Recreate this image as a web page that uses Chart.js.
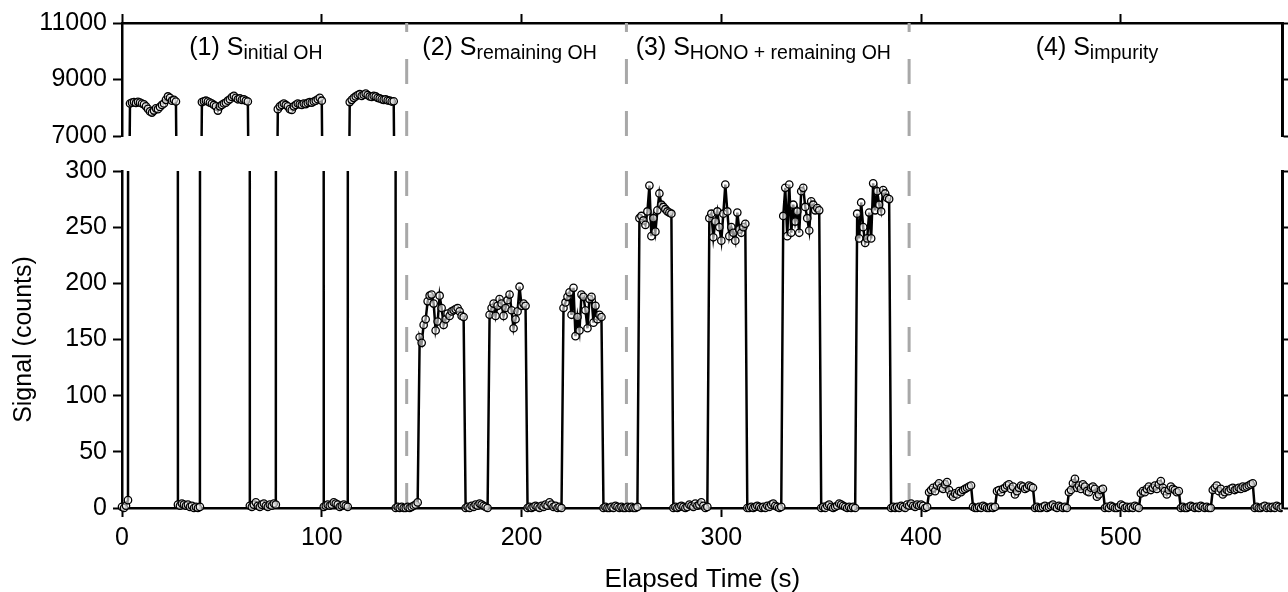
<!DOCTYPE html>
<html>
<head>
<meta charset="utf-8">
<script src="https://cdn.jsdelivr.net/npm/chart.js@4.4.1/dist/chart.umd.min.js"></script>
<style>
  html, body { margin: 0; padding: 0; background: #fff; }
  #wrap { position: relative; width: 1288px; height: 592px; overflow: hidden; }
  canvas { position: absolute; left: 0; }
  #topChart { top: 0; }
  #mainChart { top: 150px; }
</style>
</head>
<body>
<div id="wrap">
  <canvas id="topChart" width="1288" height="157"></canvas>
  <canvas id="mainChart" width="1288" height="442"></canvas>
</div>
<script>
// one sample per second, counts
var timeStep = 1;
var xMax = 581;

var phase1Counts = [
  1, 0, 2, 7,
  8150, 8180, 8200, 8170, 8210, 8180, 8150, 8120, 8050, 7960, 7870, 7830, 7900, 7980, 7950, 8030, 8100, 8150, 8280, 8400, 8350, 8250, 8280, 8220,
  3, 2, 4, 3, 2, 3, 1, 2, 0, 1, 0, 1,
  8200, 8230, 8250, 8220, 8180, 8150, 8100, 8050, 7900, 8050, 8100, 8150, 8180, 8250, 8300, 8380, 8420, 8350, 8300, 8330, 8280, 8300, 8250, 8220,
  2, 1, 3, 5, 2, 1, 3, 4, 2, 1, 3, 2, 4, 3,
  7950, 8050, 8100, 8150, 8100, 8050, 7950, 7920, 8050, 8100, 8150, 8120, 8100, 8150, 8130, 8170, 8200, 8180, 8220, 8250, 8300, 8350, 8250,
  1, 2, 3, 2, 3, 5, 4, 3, 1, 2, 3, 2, 1,
  8200, 8280, 8350, 8400, 8450, 8480, 8420, 8460, 8500, 8450, 8400, 8380, 8420, 8400, 8350, 8330, 8300, 8280, 8300, 8260, 8250, 8220, 8230,
  0, 1, 0, 1, 0, 0, 1, 0, 1, 2, 3, 5
];
var phase2Counts = [
  152, 147, 163, 168, 184, 189, 190, 182, 158, 166, 189, 178, 163, 168, 173, 171, 175, 176, 177, 178, 175, 171, 170,
  0, 1, 0, 2, 1, 3, 2, 4, 3, 2, 1, 0,
  172, 178, 182, 171, 180, 186, 182, 171, 178, 185, 190, 176, 160, 168, 175, 197, 180, 182, 180,
  0, 1, 0, 1, 2, 1, 0, 2, 1, 3, 2, 5, 3, 1, 2, 0, 1, 0,
  178, 183, 188, 192, 172, 196, 153, 170, 158, 190, 188, 176, 160, 186, 188, 165, 180, 168, 172, 170,
  0, 1, 0, 0, 1, 0, 2, 1, 0, 1, 0, 0, 1, 0, 1, 0, 0, 1
];
var phase3Counts = [
  258, 260, 256, 252, 264, 287, 242, 258, 246, 265, 280, 270, 268, 266, 264, 263, 262,
  0, 1, 0, 1, 2, 1, 0, 1, 3, 2, 1, 4, 2, 3, 5, 2, 0, 1,
  258, 262, 241, 255, 264, 250, 238, 262, 288, 264, 242, 250, 245, 238, 263, 248, 245, 250, 253,
  0, 0, 1, 0, 1, 2, 1, 0, 1, 0, 2, 1, 3, 4, 2, 1, 0, 1,
  260, 285, 242, 288, 245, 270, 255, 264, 245, 282, 285, 268, 258, 247, 273, 270, 265, 267, 265,
  0, 1, 0, 2, 3, 1, 0, 1, 2, 4, 3, 2, 1, 0, 1, 0, 1, 0,
  262, 240, 272, 250, 236, 240, 263, 240, 289, 265, 282, 270, 264, 283, 280, 276, 275,
  0, 1, 0, 1, 0, 2, 1, 0, 3, 2, 4, 2, 1, 3, 2, 3, 2, 0, 1
];
var phase4Counts = [
  14, 16, 18, 15, 20, 22, 18, 17, 21, 23, 16, 12, 10, 13, 12, 15, 14, 16, 17, 18, 19, 20,
  1, 0, 0, 1, 0, 2, 1, 0, 0, 1, 0, 1,
  15, 16, 14, 17, 18, 20, 21, 17, 19, 12, 15, 18, 20, 19, 17, 18, 20, 19, 18,
  0, 1, 0, 0, 1, 2, 0, 1, 2, 3, 1, 0, 2, 1, 0, 1, 0,
  14, 16, 22, 26, 18, 20, 17, 21, 19, 15, 14, 18, 19, 17, 10, 12, 16, 17,
  0, 1, 0, 2, 1, 0, 0, 1, 3, 2, 0, 1, 0, 1, 0, 2, 1, 0,
  13, 15, 14, 17, 19, 16, 18, 20, 17, 21, 24, 18, 15, 12, 16, 19, 17, 16, 14, 15,
  0, 1, 0, 0, 1, 2, 1, 0, 1, 0, 2, 1, 0, 1, 0, 0,
  16, 18, 20, 15, 17, 12, 14, 16, 15, 17, 18, 16, 17, 18, 17, 19, 18, 19, 20, 21, 22,
  0, 1, 0, 0, 1, 2, 0, 1, 0, 1, 0, 2, 1, 0, 1
];

// phase boundaries (s) and labels
var phaseBoundaries = [142.5, 252.5, 394];
var phaseNames = ['(1) S', '(2) S', '(3) S', '(4) S'];
var phaseSubs = ['initial OH', 'remaining OH', 'HONO + remaining OH', 'impurity'];
var phaseLabelTime = [67, 194, 321, 488];
var phaseLabelLevel = 9850;

var signalCounts = phase1Counts.concat(phase2Counts, phase3Counts, phase4Counts);
var points = signalCounts.map(function(v, i) { return { x: i * timeStep, y: v }; });

Chart.defaults.font.family = "'Liberation Sans', Arial, sans-serif";
Chart.defaults.color = '#000';

var fontFam = "'Liberation Sans', Arial, sans-serif";

// grey dashed phase separators, plus the right-hand frame line
var phaseLines = {
  id: 'phaseLines',
  beforeDatasetsDraw: function(chart, args, opts) {
    var ctx = chart.ctx, area = chart.chartArea, x = chart.scales.x;
    ctx.save();
    ctx.strokeStyle = '#a8a8a8';
    ctx.lineWidth = 3;
    ctx.setLineDash([25, 27]);
    phaseBoundaries.forEach(function(t) {
      var px = x.getPixelForValue(t);
      ctx.beginPath();
      if (opts.fromBottom) {
        ctx.moveTo(px, area.bottom);
        ctx.lineTo(px, area.top);
      } else {
        ctx.moveTo(px, area.top);
        ctx.lineTo(px, area.bottom);
      }
      ctx.stroke();
    });
    ctx.restore();
  },
  afterDraw: function(chart) {
    var ctx = chart.ctx, area = chart.chartArea;
    ctx.save();
    ctx.strokeStyle = '#000';
    ctx.lineWidth = 2.5;
    ctx.beginPath();
    ctx.moveTo(area.right, area.top - 1);
    ctx.lineTo(area.right, area.bottom + 1);
    ctx.stroke();
    ctx.restore();
  }
};

var phaseText = {
  id: 'phaseText',
  afterDraw: function(chart) {
    var ctx = chart.ctx, x = chart.scales.x, y = chart.scales.y;
    ctx.save();
    ctx.fillStyle = '#000';
    ctx.textBaseline = 'alphabetic';
    ctx.textAlign = 'left';
    phaseNames.forEach(function(name, i) {
      ctx.font = '25px ' + fontFam;
      var w1 = ctx.measureText(name).width;
      ctx.font = '19.5px ' + fontFam;
      var w2 = ctx.measureText(phaseSubs[i]).width;
      var left = x.getPixelForValue(phaseLabelTime[i]) - (w1 + w2) / 2;
      var base = y.getPixelForValue(phaseLabelLevel);
      ctx.font = '25px ' + fontFam;
      ctx.fillText(name, left, base);
      ctx.font = '19.5px ' + fontFam;
      ctx.fillText(phaseSubs[i], left + w1, base + 4);
    });
    ctx.restore();
  }
};

var gridOpts = { drawOnChartArea: false, tickLength: 9, tickWidth: 2, tickColor: '#000' };
var borderOpts = { color: '#000', width: 2.5 };
var plain = function(v) { return String(v); };

function lineDataset(clip) {
  return {
    data: points,
    borderColor: '#000',
    borderWidth: 2.5,
    tension: 0,
    pointRadius: 3.7,
    pointBorderWidth: 1.3,
    pointBorderColor: '#000',
    pointBackgroundColor: 'rgba(255,255,255,0.55)',
    clip: clip
  };
}

var commonOpts = {
  responsive: false,
  animation: false,
  events: [],
  plugins: { legend: { display: false }, tooltip: { enabled: false } }
};

new Chart(document.getElementById('topChart').getContext('2d'), {
  type: 'line',
  data: { datasets: [lineDataset({ left: 5, top: 0, right: 0, bottom: 0 })] },
  options: Object.assign({}, commonOpts, {
    layout: { padding: 0 },
    plugins: Object.assign({}, commonOpts.plugins, { phaseLines: { fromBottom: true } }),
    scales: {
      x: {
        type: 'linear', position: 'top', min: 0, max: xMax,
        ticks: { display: false, stepSize: 100, includeBounds: false },
        grid: gridOpts, border: borderOpts,
        afterFit: function(s) { s.height = 23; }
      },
      y: {
        min: 7000, max: 11000,
        ticks: { stepSize: 2000, font: { size: 25 }, padding: 6, callback: plain },
        grid: gridOpts, border: borderOpts,
        afterFit: function(s) { s.width = 122; }
      },
      yRight: {
        position: 'right', min: 7000, max: 11000,
        ticks: { display: false, stepSize: 2000 },
        grid: gridOpts, border: borderOpts,
        afterFit: function(s) { s.width = 4; }
      }
    }
  }),
  plugins: [phaseLines, phaseText]
});

new Chart(document.getElementById('mainChart').getContext('2d'), {
  type: 'line',
  data: { datasets: [lineDataset({ left: 5, top: 0, right: 0, bottom: 6 })] },
  options: Object.assign({}, commonOpts, {
    layout: { padding: 0 },
    plugins: Object.assign({}, commonOpts.plugins, { phaseLines: { fromBottom: false } }),
    scales: {
      x: {
        type: 'linear', position: 'bottom', min: 0, max: xMax,
        ticks: { stepSize: 100, includeBounds: false, font: { size: 25 }, padding: 6, maxRotation: 0, callback: plain },
        grid: gridOpts, border: borderOpts,
        title: { display: true, text: 'Elapsed Time (s)', font: { size: 26 }, padding: { top: 0, bottom: -3 } },
        afterFit: function(s) { s.height = 84; }
      },
      y: {
        min: 0, max: 300,
        ticks: { stepSize: 50, font: { size: 25 }, padding: 6, callback: plain },
        grid: gridOpts, border: borderOpts,
        title: { display: true, text: 'Signal (counts)', font: { size: 25 }, padding: { top: 9, bottom: 0 } },
        afterFit: function(s) { s.width = 122; }
      },
      yRight: {
        position: 'right', min: 0, max: 300,
        ticks: { display: false, stepSize: 50 },
        grid: gridOpts, border: borderOpts,
        afterFit: function(s) { s.width = 4; }
      }
    }
  }),
  plugins: [phaseLines]
});
</script>
</body>
</html>
